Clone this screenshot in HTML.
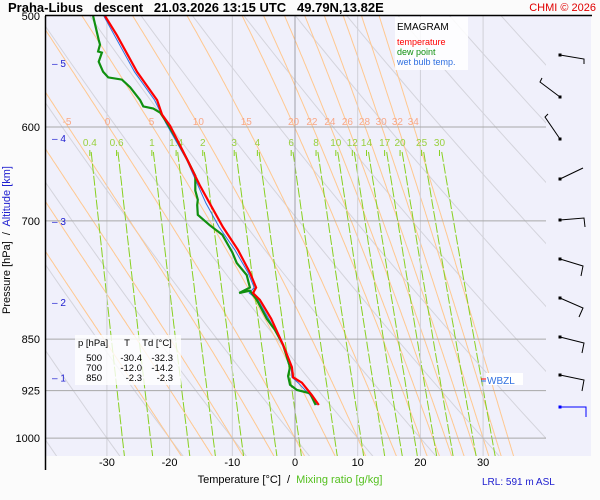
<!DOCTYPE html>
<html><head><meta charset="utf-8"><style>
body{margin:0;background:#fbfbfb;}
svg{display:block;font-family:"Liberation Sans",sans-serif;}
</style></head><body>
<svg id="chart" width="600" height="500" viewBox="0 0 600 500" xmlns="http://www.w3.org/2000/svg">
<rect x="0" y="0" width="600" height="500" fill="#fbfbfb"/>
<rect x="46" y="16" width="545" height="440" fill="#f0f0fb"/>
<defs><clipPath id="pc"><rect x="46" y="16" width="500" height="440"/></clipPath></defs>
<g id="bg" clip-path="url(#pc)"></g>
<g id="grid"></g>
<g id="labels"></g>
<g id="series" clip-path="url(#pc)"></g>
<g id="axes"></g>
<g id="winds"></g>

<text x="8" y="12" font-size="13" font-weight="bold" fill="#000" style="white-space:pre">Praha-Libus   descent   21.03.2026 13:15 UTC   49.79N,13.82E</text>
<text x="596" y="11" font-size="11" fill="#e00000" text-anchor="end">CHMI © 2026</text>

<g>
<rect x="395" y="17" width="73" height="53" fill="#ffffff" opacity="0.85"/>
<text x="397" y="30" font-size="10" fill="#000">EMAGRAM</text>
<text x="397" y="45" font-size="9" fill="#ff0000">temperature</text>
<text x="397" y="55" font-size="9" fill="#109010">dew point</text>
<text x="397" y="65" font-size="9" fill="#3070e0">wet bulb temp.</text>
</g>

<g font-size="9.5" fill="#000">
<rect x="75" y="335" width="106" height="50" fill="#ffffff" opacity="0.8"/>
<text x="78" y="346">p [hPa]</text><text x="127" y="346" text-anchor="middle">T</text><text x="157" y="346" text-anchor="middle">Td [°C]</text>
<text x="102" y="361" text-anchor="end">500</text><text x="142" y="361" text-anchor="end">-30.4</text><text x="173" y="361" text-anchor="end">-32.3</text>
<text x="102" y="371" text-anchor="end">700</text><text x="142" y="371" text-anchor="end">-12.0</text><text x="173" y="371" text-anchor="end">-14.2</text>
<text x="102" y="381" text-anchor="end">850</text><text x="142" y="381" text-anchor="end">-2.3</text><text x="173" y="381" text-anchor="end">-2.3</text>
</g>

<g>
<rect x="486" y="373" width="37" height="12" fill="#ffffff"/>
<line x1="481" y1="379" x2="486" y2="379" stroke="#ff0000"/>
<line x1="481" y1="381" x2="486" y2="381" stroke="#3070e0"/>
<text x="487" y="384" font-size="10" fill="#3070e0">WBZL</text>
</g>

<text x="10" y="240" font-size="11" transform="rotate(-90 10 240)" text-anchor="middle" style="white-space:pre"><tspan fill="#000">Pressure [hPa]  /  </tspan><tspan fill="#2020d0">Altitude [km]</tspan></text>
<text x="290" y="483" font-size="11" text-anchor="middle" style="white-space:pre"><tspan fill="#000">Temperature [°C]  /  </tspan><tspan fill="#55c020">Mixing ratio [g/kg]</tspan></text>
<text x="482" y="485" font-size="10" fill="#2020d0">LRL: 591 m ASL</text>
</svg>
<script>
// ---- data ----
const tempP = [500,516,548,574,588,599,633,660,680,707,734,762,781,788,797,822,858,890,905,913,932,947];
const tempT = [-30.3,-28.4,-25.2,-22.0,-21.2,-19.9,-17.2,-15.2,-13.6,-11.5,-9.1,-7.2,-6.2,-6.7,-5.6,-3.8,-1.9,-0.5,-0.3,1.1,2.7,3.8];
const dewP = [500,520,524,530,531,539,548,553,555,562,574,580,582,586,596,613,633,650,666,676,682,693,705,716,737,750,765,781,788,785,797,822,837,858,890,903,916,924,929,947];
const dewT = [-32.2,-31.3,-31.1,-31.4,-30.8,-31.3,-30.6,-29.8,-27.6,-26.3,-24.7,-24.2,-22.6,-21.5,-20.4,-18.8,-17.2,-15.9,-15.9,-15.5,-15.6,-15.5,-13.6,-11.6,-10.0,-9.3,-7.7,-7.2,-8.9,-7.2,-6.1,-4.5,-3.2,-1.9,-0.8,-1.1,-0.8,0.3,2.4,3.3];
const wbP = [500,548,574,596,633,660,680,707,734,762,781,788,797,822,858,890,905,913,932,947];
const wbT = [-30.5,-25.6,-22.4,-20.6,-17.3,-15.5,-14.2,-12.1,-9.6,-7.5,-6.5,-7.3,-5.9,-4.2,-1.9,-0.6,-0.5,0.5,2.4,3.5];
const pressTicks = [500,600,700,850,925,1000];
const tempTicks = [-30,-20,-10,0,10,20,30];
const altKm = [5,4,3,2,1];
const altP = [540,611,700,800,905];
const mixRatios = [0.4,0.6,1,1.4,2,3,4,6,8,10,12,14,17,20,25,30];
const moistThetaW = [-20,-15,-10,-5,0,5,10,15,20,22,24,26,28,30,32,34];
const moistLabels = [-5,0,5,10,15,20,22,24,26,28,30,32,34];
const dryTheta = [-60,-50,-40,-30,-20,-10,0,10,20,30,40,50,60,70,80,90,100,110,120,130,140,150];
// ---- scales ----
const NS="http://www.w3.org/2000/svg";
function xS(T){return 295+6.27*T;}
function yS(p){return 16+609*Math.log(p/500);}
function mk(tag,attrs,parent){const e=document.createElementNS(NS,tag);for(const k in attrs)e.setAttribute(k,attrs[k]);parent.appendChild(e);return e;}
function poly(ps,ts){return ps.map((p,i)=>xS(ts[i]).toFixed(1)+","+yS(p).toFixed(1)).join(" ");}
const bg=document.getElementById("bg"),grid=document.getElementById("grid"),lab=document.getElementById("labels"),ser=document.getElementById("series"),ax=document.getElementById("axes"),wn=document.getElementById("winds");
function es(T){return 6.112*Math.exp(17.67*T/(T+243.5));}
// dry adiabats
dryTheta.forEach(th=>{const ps=[],ts=[];for(let p=480;p<=1050;p+=10){ps.push(p);ts.push((th+273.15)*Math.pow(p/1000,0.286)-273.15);}
 const l=mk("polyline",{points:poly(ps,ts),fill:"none",stroke:"#d4d4dc","stroke-width":1},bg);
 
 });
// moist adiabats
function grad(p,T){const e=es(T-273.15),rs=0.622*e/(p-e);return ((287*T+2.5e6*rs)/p)/(1004+2.5e6*2.5e6*rs*0.622/(287*T*T));}
function moist(tw){const up=[],dn=[];let T=tw+273.15;
 for(let p=1000;p>=480;p-=2){up.push([p,T-273.15]);T-=grad(p,T)*2;}
 T=tw+273.15;for(let p=1000;p<=1050;p+=2){dn.unshift([p,T-273.15]);T+=grad(p,T)*2;}
 return dn.concat(up.slice(1));}
const moistCurves={};
moistThetaW.forEach(tw=>{const c=moist(tw);moistCurves[tw]=c;
 const l=mk("polyline",{points:c.map(a=>xS(a[1]).toFixed(1)+","+yS(a[0]).toFixed(1)).join(" "),fill:"none",stroke:"#ffc890","stroke-width":1},bg);
 
 });
// mixing ratio lines
function tdMix(w,p){const e=w*p/(622+w),a=Math.log(e/6.112);return 243.5*a/(17.67-a);}
mixRatios.forEach(w=>{const ps=[],ts=[];for(let p=625;p<=1050;p+=5){ps.push(p);ts.push(tdMix(w,p));}
 const l=mk("polyline",{points:poly(ps,ts),fill:"none",stroke:"#88d020","stroke-width":1,"stroke-dasharray":"10,2"},bg);
 
 
 const x=xS(tdMix(w,612));
 const t=mk("line",{x1:x,y1:150,x2:x,y2:156,stroke:"#88d020"},lab);
 
 
 const tx=mk("text",{x:x,y:146,"font-size":10,fill:"#99d040","text-anchor":"middle"},lab);tx.textContent=w;
 
 });
// grid
tempTicks.forEach(T=>{const l=mk("line",{x1:xS(T),y1:16,x2:xS(T),y2:456,stroke:T===0?"#a0a0a8":"#d0d0d8","stroke-width":1},grid);
 
 
 const t=mk("text",{x:xS(T),y:466,"font-size":11,"text-anchor":"middle",fill:"#000"},ax);t.textContent=T;
 
 });
pressTicks.forEach(p=>{if(p>500){const l=mk("line",{x1:46,y1:yS(p),x2:546,y2:yS(p),stroke:"#a8a8a8","stroke-width":1},grid);
 
 }
 const t=mk("text",{x:40,y:yS(p)+4,"font-size":11,"text-anchor":"end",fill:"#000"},ax);t.textContent=p;
 
 });
// moist labels
moistLabels.forEach(tw=>{const c=moistCurves[tw];let best=c[0];c.forEach(a=>{if(Math.abs(a[0]-597)<Math.abs(best[0]-597))best=a;});
 const t=mk("text",{x:xS(best[1]),y:125,"font-size":10,fill:"#f8a888","text-anchor":"middle"},lab);t.textContent=tw;
 
 });
// altitude
altKm.forEach((k,i)=>{const y=yS(altP[i]);
 const t=mk("text",{x:52,y:y+4,"font-size":10,fill:"#2020d0"},ax);t.textContent="– "+k;
 
 });
// axes frame
const a1=mk("line",{x1:45.5,y1:16,x2:45.5,y2:470,stroke:"#000","stroke-width":1.5},ax);


const a2=mk("line",{x1:45,y1:15.5,x2:592,y2:15.5,stroke:"#000","stroke-width":1.5},ax);


// series
const sw=mk("polyline",{points:poly(wbP,wbT),fill:"none",stroke:"#3070e0","stroke-width":1},ser);


const sd=mk("polyline",{points:poly(dewP,dewT),fill:"none",stroke:"#109010","stroke-width":2.2},ser);


const st=mk("polyline",{points:poly(tempP,tempT),fill:"none",stroke:"#ff0000","stroke-width":2.2},ser);


// wind barbs
const barbs=[[560,55,584,59,"584,64"],[560,97,540,82,"542,78"],[560,139,545,117,"548,114"],[560,179,583,168,""],[560,220,584,218,"585,227"],[560,259,583,266,"581,276"],[560,298,583,308,"579,317"],[560,337,584,343,"582,353"],[560,375,584,380,"582,391"],[560,407,586,407,"586,417"]];
barbs.forEach((b,i)=>{const c=i===9?"#0000ff":"#000";
 const g=mk("g",{},wn);
 
 
 mk("rect",{x:b[0]-1.5,y:b[1]-1.5,width:3,height:3,fill:c},g);
 mk("polyline",{points:b[0]+","+b[1]+" "+b[2]+","+b[3]+(b[4]?" "+b[4]:""),fill:"none",stroke:c,"stroke-width":1},g);});
</script>
</body></html>
